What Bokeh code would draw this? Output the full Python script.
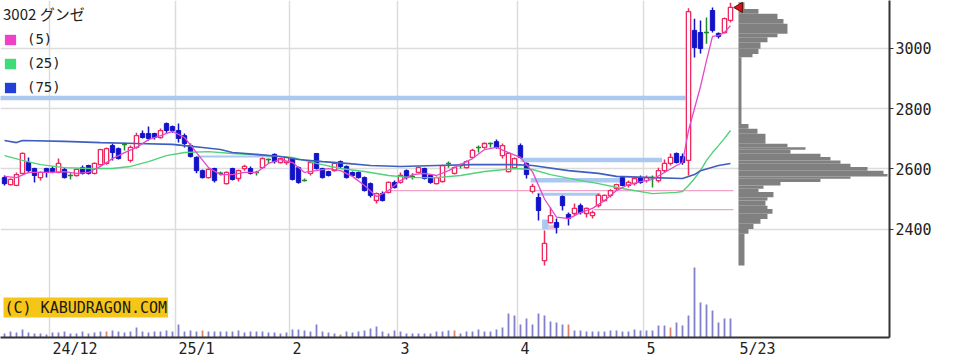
from bokeh.plotting import figure
from bokeh.models import (FixedTicker, Range1d, Legend, LegendItem, Label)
from bokeh.embed import file_html
from bokeh.resources import INLINE

# ---------------- data (daily, 2024-11-20 .. 2025-05-23) ----------------
opens = [2571, 2548, 2545, 2585, 2621, 2601, 2571, 2601, 2601, 2588,
         2598, 2578, 2578, 2604, 2611, 2585, 2614, 2618, 2677, 2667,
         2681, 2628, 2671, 2717, 2717, 2717, 2704, 2750, 2740, 2727,
         2710, 2677, 2638, 2594, 2571, 2601, 2585, 2551, 2601, 2568,
         2601, 2601, 2588, 2604, 2631, 2648, 2621, 2621, 2634, 2604,
         2561, 2585, 2651, 2601, 2591, 2594, 2624, 2608, 2588, 2588,
         2571, 2551, 2495, 2518, 2522, 2555, 2555, 2594, 2575, 2588,
         2601, 2578, 2551, 2558, 2618, 2585, 2611, 2604, 2638, 2671,
         2671, 2684, 2690, 2644, 2591, 2604, 2677, 2618, 2525, 2505,
         2296, 2422, 2422, 2508, 2449, 2452, 2478, 2452, 2445, 2478,
         2495, 2512, 2535, 2571, 2545, 2551, 2571, 2561, 2571, 2561,
         2594, 2618, 2651, 2641, 2628, 3059, 3052, 3052, 3125, 3049,
         3052, 3092]
highs = [2578, 2568, 2588, 2654, 2638, 2604, 2591, 2604, 2608, 2634,
         2604, 2585, 2601, 2611, 2614, 2621, 2667, 2671, 2684, 2671,
         2687, 2677, 2720, 2727, 2740, 2720, 2734, 2754, 2744, 2750,
         2717, 2684, 2641, 2598, 2601, 2604, 2591, 2591, 2604, 2598,
         2614, 2608, 2594, 2638, 2634, 2651, 2638, 2641, 2638, 2608,
         2568, 2624, 2651, 2604, 2594, 2621, 2628, 2611, 2591, 2591,
         2575, 2555, 2522, 2525, 2558, 2561, 2588, 2598, 2585, 2608,
         2604, 2581, 2575, 2614, 2624, 2608, 2618, 2628, 2667, 2677,
         2687, 2687, 2697, 2684, 2654, 2638, 2684, 2621, 2551, 2518,
         2396, 2472, 2435, 2512, 2455, 2485, 2485, 2472, 2462, 2518,
         2515, 2532, 2551, 2575, 2561, 2571, 2578, 2578, 2578, 2604,
         2631, 2651, 2654, 2651, 3132, 3098, 3092, 3102, 3135, 3052,
         3102, 3151]
lows = [2545, 2545, 2542, 2581, 2585, 2555, 2561, 2571, 2585, 2585,
        2568, 2565, 2575, 2581, 2581, 2581, 2611, 2614, 2628, 2631,
        2661, 2621, 2667, 2701, 2694, 2697, 2701, 2720, 2720, 2687,
        2671, 2638, 2585, 2568, 2568, 2555, 2578, 2548, 2561, 2558,
        2594, 2581, 2578, 2601, 2618, 2618, 2618, 2614, 2561, 2551,
        2558, 2578, 2598, 2568, 2575, 2591, 2601, 2568, 2575, 2568,
        2525, 2505, 2485, 2492, 2518, 2535, 2551, 2565, 2565, 2585,
        2565, 2551, 2548, 2555, 2604, 2581, 2601, 2601, 2634, 2654,
        2667, 2671, 2667, 2634, 2588, 2601, 2634, 2568, 2518, 2429,
        2280, 2419, 2386, 2462, 2412, 2445, 2449, 2439, 2435, 2472,
        2492, 2505, 2528, 2542, 2538, 2545, 2551, 2555, 2538, 2555,
        2588, 2611, 2618, 2614, 2578, 2969, 2982, 3015, 3052, 3032,
        3049, 3085]
closes = [2551, 2565, 2581, 2651, 2594, 2578, 2588, 2588, 2591, 2618,
          2571, 2578, 2598, 2585, 2585, 2618, 2664, 2667, 2654, 2634,
          2681, 2671, 2710, 2704, 2701, 2704, 2727, 2727, 2727, 2701,
          2684, 2641, 2594, 2571, 2598, 2561, 2585, 2588, 2565, 2594,
          2608, 2585, 2588, 2634, 2631, 2624, 2634, 2638, 2565, 2555,
          2561, 2621, 2601, 2571, 2578, 2618, 2608, 2571, 2578, 2571,
          2528, 2512, 2518, 2495, 2555, 2538, 2578, 2571, 2575, 2604,
          2568, 2555, 2571, 2611, 2618, 2604, 2611, 2624, 2661, 2671,
          2684, 2684, 2671, 2677, 2651, 2634, 2638, 2581, 2542, 2462,
          2353, 2445, 2406, 2478, 2435, 2469, 2455, 2469, 2455, 2512,
          2512, 2528, 2548, 2545, 2555, 2568, 2555, 2571, 2571, 2594,
          2618, 2638, 2621, 2621, 3121, 3002, 2999, 3052, 3059, 3039,
          3098, 3135]
# volume, thousand shares
volumes = [40, 60, 50, 80, 50, 40, 40, 30, 50, 50,
           60, 40, 40, 60, 40, 50, 60, 60, 70, 60,
           50, 60, 100, 60, 50, 60, 60, 70, 60, 130,
           60, 70, 60, 70, 60, 60, 60, 60, 60, 70,
           50, 60, 60, 60, 50, 50, 40, 50, 80, 80,
           70, 60, 130, 60, 50, 40, 30, 60, 50, 60,
           70, 90, 110, 60, 40, 70, 60, 40, 40, 40,
           40, 40, 60, 60, 70, 70, 40, 60, 60, 80,
           60, 60, 80, 100, 240, 220, 130, 190, 130, 240,
           220, 160, 150, 130, 130, 70, 70, 60, 60, 60,
           60, 70, 70, 60, 60, 80, 70, 70, 70, 120,
           120, 100, 150, 120, 220, 700, 350, 330, 270, 150,
           190, 190]
vol_red_days = [17, 33, 56, 75, 94, 111]

ma5_idx = [0, 2, 4, 6, 8, 10, 12, 14, 16, 18, 20, 22, 24, 26, 28, 30, 32, 34, 36, 38,
           40, 42, 44, 46, 48, 50, 52, 54, 56, 58, 60, 62, 64, 66, 68, 70, 72, 74, 76, 78,
           80, 82, 84, 86, 88, 90, 92, 94, 96, 98, 100, 102, 104, 106, 108, 110, 112, 113,
           114, 115, 116, 117, 118, 119, 120, 121]
ma5_val = [2575, 2571, 2588, 2588, 2588, 2591, 2585, 2588, 2608, 2634, 2654, 2671, 2697, 2710,
           2724, 2704, 2654, 2604, 2581, 2581, 2588, 2588, 2618, 2631, 2621, 2588, 2594, 2601,
           2594, 2575, 2545, 2508, 2528, 2561, 2581, 2585, 2578, 2594, 2614, 2634, 2664, 2671,
           2654, 2638, 2590, 2500, 2440, 2435, 2455, 2469, 2495, 2528, 2548, 2558, 2565, 2588,
           2611, 2621, 2727, 2800, 2873, 2959, 3039, 3042, 3052, 3075]
ma25_idx = [0, 3, 6, 10, 14, 18, 21, 24, 27, 30, 34, 38, 44, 48, 52, 56, 60, 64, 68, 72,
            76, 80, 85, 88, 91, 95, 99, 103, 108, 112, 113, 114, 115, 116, 117, 118, 119, 120, 121]
ma25_val = [2644, 2628, 2614, 2604, 2601, 2601, 2608, 2624, 2644, 2654, 2657, 2651, 2644, 2638,
            2618, 2601, 2591, 2578, 2571, 2571, 2578, 2591, 2601, 2598, 2581, 2565, 2551, 2535,
            2518, 2522, 2525, 2545, 2568, 2594, 2628, 2654, 2677, 2701, 2727]
ma75_idx = [0, 2, 3, 10, 16, 22, 28, 30, 33, 36, 38, 42, 46, 49, 53, 57, 61, 66, 72, 78,
            85, 88, 94, 99, 102, 108, 113, 115, 116, 119, 121]
ma75_val = [2694, 2687, 2694, 2691, 2687, 2684, 2681, 2677, 2671, 2664, 2654, 2648, 2641, 2631,
            2624, 2618, 2611, 2608, 2611, 2614, 2614, 2611, 2594, 2585, 2575, 2571, 2568, 2581,
            2594, 2611, 2618]

month_start_idx = [8, 29, 48, 66, 86, 107]
tick_labels = ["24/12", "25/1", "2", "3", "4", "5", "5/23"]
tick_anchor_idx = [8, 29, 48, 66, 86, 107, 122.5]
price_ticks = [2400, 2600, 2800, 3000]

# support / resistance lines: start idx, end idx, price, kind
sr_start = [-1, 86, 87.7, 88.8, 32, 64.3, 98.2]
sr_end = [113.5, 109.6, 103, 99.3, 45.5, 121.5, 121.5]
sr_price = [2835, 2629, 2562, 2516, 2641, 2528, 2465]
sr_kind = ["band", "band", "band", "band_mid", "band_thin", "pink", "pink"]

# gap zones around the April low
gap_left = [89.6, 90.7]
gap_right = [90.7, 92.0]
gap_bottom = [2400, 2400]
gap_top = [2432, 2413]
gap_kind = ["blue", "pink"]

# price-by-volume profile (price bin edges, thousand shares per bin)
pv_edges = [3152, 3130, 3114, 3097, 3081, 3048, 3036, 3020, 2998, 2981,
            2970, 2749, 2733, 2716, 2683, 2672, 2663, 2650, 2639, 2628,
            2617, 2606, 2594, 2583, 2575, 2567, 2556, 2545, 2534, 2523,
            2506, 2495, 2478, 2467, 2451, 2434, 2418, 2401, 2385, 2280]
pv_vol = [150, 500, 975, 1125, 1225, 975, 725, 550, 500, 350,
          75, 250, 475, 675, 1225, 1675, 1300, 2050, 2300, 2550,
          2800, 3225, 3625, 3725, 2800, 2050, 1050, 625, 500, 875,
          725, 675, 725, 850, 725, 550, 375, 250, 150]

ma_legend_labels = ["(5)", "(25)", "(75)"]

# ---------------- styles ----------------
UP_C = "#ee2a5e"
DOWN_C = "#1212c8"
DOJI_C = "#1f8a2a"
MA5_C = "#e548c8"
MA25_C = "#4fd27a"
MA75_C = "#3f5fc0"
LEG_COLORS = ["#f040c8", "#3ddc78", "#2040d8"]
BAND_C = "#aac8f0"
PINK_C = "#f2a2c4"
VOL_C = "#8080cc"
VOL_RED_C = "#e0806c"
PV_C = "#808080"
GRID_C = "#dcdcdc"
AXIS_C = "#333333"
MONO = "DejaVu Sans Mono"
CHAR_W = 9.0      # px per character of the tick font
PX_PER_IDX = 6.0  # px per trading day

W, H = 954, 362
p = figure(width=W, height=H, output_backend="svg", toolbar_location=None,
           x_range=Range1d(-0.667, 147.5), y_range=Range1d(2040.9, 3158.1),
           y_axis_location="right", min_border_left=0, min_border_right=65,
           min_border_top=0, min_border_bottom=25,
           styles={"position": "absolute", "left": "0px", "top": "0px"})
p.outline_line_color = None
p.background_fill_color = "white"
p.border_fill_color = "white"

# axes
p.yaxis.ticker = FixedTicker(ticks=price_ticks)
p.yaxis.major_tick_out = 4
p.yaxis.major_tick_in = 0
p.yaxis.minor_tick_out = 0
p.yaxis.minor_tick_in = 0
p.yaxis.major_label_standoff = 2
p.yaxis.axis_line_color = AXIS_C
p.yaxis.axis_line_width = 2
p.yaxis.major_tick_line_color = AXIS_C
p.yaxis.major_label_text_font = MONO
p.yaxis.major_label_text_font_size = "15px"
p.yaxis.major_label_text_color = "#222222"

label_centers = [a + len(t) * CHAR_W / 2 / PX_PER_IDX for a, t in zip(tick_anchor_idx, tick_labels)]
p.xaxis.ticker = FixedTicker(ticks=label_centers)
p.xaxis.major_label_overrides = {c: t for c, t in zip(label_centers, tick_labels)}
p.xaxis.major_tick_out = 0
p.xaxis.major_tick_in = 0
p.xaxis.minor_tick_out = 0
p.xaxis.minor_tick_in = 0
p.xaxis.major_label_standoff = 2
p.xaxis.axis_line_color = AXIS_C
p.xaxis.axis_line_width = 2
p.xaxis.major_label_text_font = MONO
p.xaxis.major_label_text_font_size = "15px"
p.xaxis.major_label_text_color = "#222222"

p.xgrid.ticker = FixedTicker(ticks=[m - 0.5 for m in month_start_idx])
p.ygrid.ticker = FixedTicker(ticks=price_ticks)
p.xgrid.grid_line_color = GRID_C
p.ygrid.grid_line_color = GRID_C
p.xgrid.grid_line_width = 1.5
p.ygrid.grid_line_width = 1.5

# support / resistance lines
style_w = {"band": 4.5, "band_mid": 3, "band_thin": 2, "pink": 1.2}
style_c = {"band": BAND_C, "band_mid": BAND_C, "band_thin": BAND_C, "pink": PINK_C}
p.segment(x0=sr_start, x1=sr_end, y0=sr_price, y1=sr_price,
          line_color=[style_c[k] for k in sr_kind], line_width=[style_w[k] for k in sr_kind])
p.quad(left=gap_left, right=gap_right, bottom=gap_bottom, top=gap_top,
       fill_color=[BAND_C if k == "blue" else "#f4bcd4" for k in gap_kind], line_color=None)

# price-by-volume histogram
n = len(closes)
PV_LEFT = n - 1 + 1.33
PV_PER_IDX = 150.0
p.quad(left=[PV_LEFT] * len(pv_vol), right=[PV_LEFT + v / PV_PER_IDX for v in pv_vol],
       top=pv_edges[:-1], bottom=pv_edges[1:], fill_color=PV_C, line_color=None)

# volume
p.extra_y_ranges = {"vol": Range1d(0, 3370)}
idx = list(range(n))
vol_colors = [VOL_RED_C if i in vol_red_days else VOL_C for i in idx]
p.vbar(x=idx, top=volumes, bottom=0, width=0.3, fill_color=vol_colors, line_color=None,
       y_range_name="vol")

# candles
up = [i for i in idx if closes[i] > opens[i]]
dn = [i for i in idx if closes[i] < opens[i]]
dj = [i for i in idx if closes[i] == opens[i]]
for sel, col in ((up, UP_C), (dn, DOWN_C), (dj, DOJI_C)):
    p.segment(x0=sel, x1=sel, y0=[lows[i] for i in sel], y1=[highs[i] for i in sel],
              line_color=col, line_width=1.5)
p.vbar(x=up, top=[closes[i] for i in up], bottom=[opens[i] for i in up], width=0.72,
       fill_color="white", line_color=UP_C, line_width=1.3)
p.vbar(x=dn, top=[opens[i] for i in dn], bottom=[closes[i] for i in dn], width=0.72,
       fill_color=DOWN_C, line_color=DOWN_C, line_width=1)
p.segment(x0=[i - 0.42 for i in dj], x1=[i + 0.42 for i in dj],
          y0=[opens[i] for i in dj], y1=[opens[i] for i in dj], line_color=DOJI_C, line_width=1.5)

# moving averages
p.line(ma25_idx, ma25_val, line_color=MA25_C, line_width=1.4)
p.line(ma75_idx, ma75_val, line_color=MA75_C, line_width=1.6)
p.line(ma5_idx, ma5_val, line_color=MA5_C, line_width=1.3)

# current price marker
p.scatter(x=[n - 1 + 1.5], y=[closes[-1]], marker="triangle", angle=1.5708, size=10,
          fill_color="#dd1111", line_color="#551111", line_width=1)

# legend with square swatches (swatch-only renderers, nothing drawn in the plot)
nan = float("nan")
swatches = [p.quad(left=[nan], right=[nan], top=[nan], bottom=[nan], fill_color=c, line_color=None)
            for c in LEG_COLORS]
legend = Legend(items=[LegendItem(label=lab, renderers=[r]) for lab, r in zip(ma_legend_labels, swatches)],
                location="top_left", title="3002 グンゼ", margin=3, padding=3, spacing=8,
                glyph_width=14, glyph_height=13, label_height=13, label_standoff=10,
                title_standoff=7, border_line_color=None, background_fill_alpha=0,
                label_text_font=MONO, label_text_font_size="14px", label_text_color="#222222",
                title_text_font="Noto Sans CJK JP", title_text_font_size="15px",
                title_text_font_style="normal", title_text_color="#222222")
p.add_layout(legend)

# copyright badge
p.add_layout(Label(x=3, y=20, x_units="screen", y_units="screen", text="(C) KABUDRAGON.COM",
                   text_font=MONO, text_font_size="15px", text_color="#1a1a1a",
                   text_baseline="bottom", background_fill_color="#f5c518", padding=1))

open("out.html", "w").write(file_html(p, INLINE))
